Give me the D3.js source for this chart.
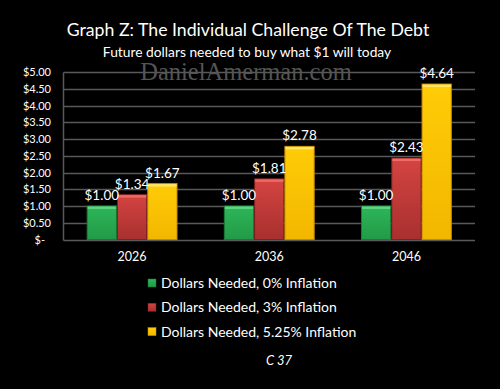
<!DOCTYPE html>
<html><head><meta charset="utf-8">
<script src="https://cdn.jsdelivr.net/npm/d3@7"></script>
<style>body{margin:0;background:#000}svg{display:block}</style>
</head><body>
<script>
const categories = ["2026", "2036", "2046"];
const seriesNames = ["Dollars Needed, 0% Inflation", "Dollars Needed, 3% Inflation", "Dollars Needed, 5.25% Inflation"];
const inflation0 = [1.00, 1.00, 1.00];
const inflation3 = [1.34, 1.81, 2.43];
const inflation525 = [1.67, 2.78, 4.64];
const yTicks = [0, 0.5, 1, 1.5, 2, 2.5, 3, 3.5, 4, 4.5, 5];
const seriesValues = [inflation0, inflation3, inflation525];

const W = 500, H = 389;
const svg = d3.select("body").append("svg").attr("width", W).attr("height", H)
  .style("background", "#000");
const font = "Lato, 'Open Sans', sans-serif";

const colors = [
  {top:"#5fd47f", mid:"#2db659", bot:"#229a48", edge:"#1a7a38"},
  {top:"#ee6a62", mid:"#d44441", bot:"#a8302f", edge:"#7e2222"},
  {top:"#ffe566", mid:"#ffcc07", bot:"#f2b700", edge:"#c98a00"}
];
const defs = svg.append("defs");
colors.forEach((c,i)=>{
  const g = defs.append("linearGradient").attr("id","g"+i).attr("x1",0).attr("x2",0).attr("y1",0).attr("y2",1);
  g.append("stop").attr("offset","0%").attr("stop-color",c.mid);
  g.append("stop").attr("offset","100%").attr("stop-color",c.bot);
});

const x0 = d3.scaleBand().domain(categories).range([63.5, 475]).paddingInner(0).paddingOuter(0);
const x1 = d3.scaleBand().domain(d3.range(3)).range([0, x0.bandwidth()]).paddingInner(0).paddingOuter(0.765);
const y = d3.scaleLinear().domain([0, 5]).range([239.5, 72]);

// titles
svg.append("text").attr("x", 248).attr("y", 36).attr("text-anchor","middle")
  .attr("fill","#fff").style("font-family",font).style("font-size","17.7px")
  .text("Graph Z: The Individual Challenge Of The Debt");
svg.append("text").attr("x", 247).attr("y", 57).attr("text-anchor","middle")
  .attr("fill","#fff").style("font-family",font).style("font-size","13.8px")
  .text("Future dollars needed to buy what $1 will today");

// gridlines
const grid = svg.append("g");
grid.selectAll("line").data(yTicks).join("line")
  .attr("x1", 63.5).attr("x2", 475)
  .attr("y1", d=>Math.round(y(d))+0.5).attr("y2", d=>Math.round(y(d))+0.5)
  .attr("stroke", "#595959").attr("stroke-width", 1.5);
svg.append("line").attr("x1",63.5).attr("x2",63.5).attr("y1",Math.round(y(5))+0.5).attr("y2",Math.round(y(0))+0.5)
  .attr("stroke","#595959").attr("stroke-width",1.5);

// watermark
svg.append("text").attr("x", 246).attr("y", 80).attr("text-anchor","middle")
  .attr("fill","#555").style("font-family","'Liberation Serif', serif").style("font-size","24.5px")
  .text("DanielAmerman.com");

// y axis labels
const yAxis = d3.axisLeft(y).tickValues(yTicks).tickSize(0).tickPadding(0)
  .tickFormat(d => d === 0 ? "$-" : "$" + d.toFixed(2));
const ya = svg.append("g").attr("transform","translate(51,0)").call(yAxis);
ya.select(".domain").remove();
ya.selectAll("text").attr("fill","#fff").style("font-family",font).style("font-size","11px");
ya.selectAll(".tick").filter(d=>d===0).select("text").attr("dx","-6");

// x axis labels
const xAxis = d3.axisBottom(x0).tickSize(0).tickPadding(0);
const xa = svg.append("g").attr("transform","translate(0,252)").call(xAxis);
xa.select(".domain").remove();
xa.selectAll("text").attr("fill","#fff").style("font-family",font).style("font-size","12.5px");

// bars
const groups = svg.append("g").selectAll("g").data(categories).join("g")
  .attr("transform", d=>`translate(${x0(d)},0)`);
groups.each(function(cat, ci){
  const g = d3.select(this);
  seriesValues.forEach((vals, si)=>{
    const v = vals[ci];
    const bx = x1(si), bw = x1.bandwidth();
    const top = y(v), bottom = y(0);
    g.append("rect").attr("x", bx+0.5).attr("y", top).attr("width", bw-1).attr("height", bottom-top)
      .attr("fill", `url(#g${si})`).attr("stroke", colors[si].edge).attr("stroke-width", 1);
    g.append("rect").attr("x", bx+1).attr("y", top+0.5).attr("width", bw-2).attr("height", 2.5)
      .attr("fill", colors[si].top);
  });
  seriesValues.forEach((vals, si)=>{
    const v = vals[ci];
    const bx = x1(si), bw = x1.bandwidth();
    g.append("text").attr("x", bx + bw/2).attr("y", y(v) - 6).attr("text-anchor","middle")
      .attr("fill","#fff").style("font-family",font).style("font-size","13.5px")
      .text("$" + v.toFixed(2));
  });
});

// legend
const leg = svg.append("g");
seriesNames.forEach((name, i)=>{
  const ly = 283 + i*24.3;
  leg.append("rect").attr("x",148).attr("y",ly-4).attr("width",8).attr("height",8)
    .attr("fill",`url(#g${i})`).attr("stroke",colors[i].edge).attr("stroke-width",0.5);
  leg.append("text").attr("x",161).attr("y",ly+5).attr("fill","#fff")
    .style("font-family",font).style("font-size","14px").text(name);
});

svg.append("text").attr("x",279).attr("y",365).attr("text-anchor","middle")
  .attr("fill","#fff").style("font-family",font).style("font-style","italic").style("font-size","13px")
  .text("C 37");
</script>
</body></html>
